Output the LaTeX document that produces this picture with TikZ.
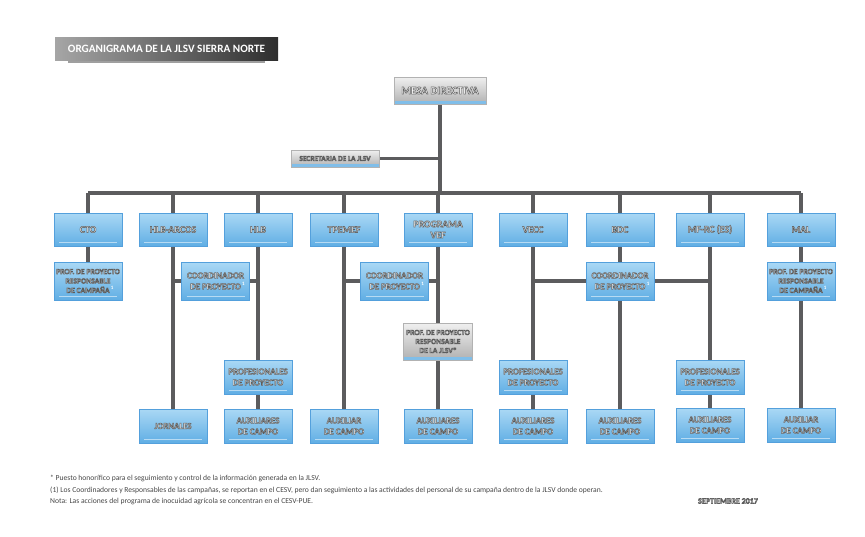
\documentclass[tikz,border=0pt]{standalone}
\usepackage{fontspec}
\setmainfont{Carlito}
\usepackage{tikz}
\usetikzlibrary{calc,positioning,backgrounds}
\definecolor{cAzulA}{RGB}{170,216,245}
\definecolor{cAzulB}{RGB}{96,174,228}
\definecolor{cBorde}{RGB}{84,160,220}
\definecolor{cLinea}{RGB}{92,92,94}
\definecolor{cNota}{RGB}{70,70,70}
% texto blanco con contorno gris (modo de trazo del PDF)
\newcommand{\ct}[1]{\special{pdf:literal direct 2 Tr 0.5 w 0.36 G}#1\special{pdf:literal direct 0 Tr}}
\newcommand{\marca}[1]{\rlap{\,\raisebox{0.9ex}{\fontsize{5}{5}\selectfont #1}}}

\begin{document}
\begin{tikzpicture}[x=1pt,y=-1pt,
  linea/.style={cLinea,line width=3.5pt},
  unidad/.style={draw=cBorde,line width=0.6pt,top color=cAzulA,bottom color=cAzulB,
    minimum width=68pt,minimum height=33pt,inner sep=1pt,align=center,text=white,
    font=\bfseries\fontsize{9.8}{11}\selectfont,
    path picture={\draw[white!55!cAzulB,line width=0.6pt]
      ([xshift=5pt,yshift=4pt]path picture bounding box.south west) --
      ([xshift=-5pt,yshift=4pt]path picture bounding box.south east);}},
  chica/.style={unidad,minimum height=38pt,font=\bfseries\fontsize{7.6}{9.4}\selectfont},
  media/.style={unidad,minimum height=38pt,font=\bfseries\fontsize{8.8}{11}\selectfont},
  campo/.style={unidad,minimum height=34pt,font=\bfseries\fontsize{8.8}{11}\selectfont},
  gris/.style={draw=gray!60,line width=0.5pt,top color=gray!12,bottom color=gray!62,
    align=center,text=white,inner sep=1pt,
    path picture={\fill[cAzulB!80!white]
      ([yshift=3pt]path picture bounding box.south west) rectangle
      (path picture bounding box.south east);}},
  nota/.style={anchor=west,text=cNota,font=\fontsize{7.6}{9}\selectfont,inner sep=0pt}]
\useasboundingbox (0,0) rectangle (865,536);

% titulo
\fill[gray!75] (68,60) rectangle (265,63);
\node[left color=gray!70,right color=black!82,minimum width=223pt,minimum height=23pt,
  inner sep=0pt,text=white,font=\bfseries\fontsize{11.2}{12}\selectfont]
  (titulo) at (166.5,48.5) {ORGANIGRAMA DE LA JLSV SIERRA NORTE};

% direccion
\node[gris,minimum width=92pt,minimum height=27pt,font=\bfseries\fontsize{11}{12}\selectfont]
  (mesa) at (440,90.5) {\ct{MESA DIRECTIVA}};
\node[gris,minimum width=88pt,minimum height=17pt,font=\bfseries\fontsize{7.4}{9}\selectfont]
  (secr) at (335,158.5) {\ct{SECRETARIA DE LA JLSV}};
\coordinate (bus) at (440,193);

% programas
\node[unidad] (cto)    at (88,229.5)  {\ct{CTO}};
\node[unidad] (arcos)  at (173,229.5) {\ct{HLB-ARCOS}};
\node[unidad] (hlb)    at (258,229.5) {\ct{HLB}};
\node[unidad] (tpemef) at (344,229.5) {\ct{TPEMEF}};
\node[unidad] (vef)    at (438,229.5) {\ct{PROGRAMA}\\\ct{VEF}};
\node[unidad] (vecc)   at (533,229.5) {\ct{VECC}};
\node[unidad] (bdc)    at (620,229.5) {\ct{BDC}};
\node[unidad] (mfrc)   at (710,229.5) {\ct{MF-RC (ES)}};
\node[unidad] (mal)    at (801,229.5) {\ct{MAL}};

% coordinadores y responsables
\node[chica] (ctoProf) at (88,281)    {\ct{PROF. DE PROYECTO}\\\ct{RESPONSABLE}\\\ct{DE CAMPAÑA}\marca{1}};
\node[media] (coordA)  at (215.5,281) {\ct{COORDINADOR}\\\ct{DE PROYECTO}\marca{1}};
\node[media] (coordB)  at (394.5,281) {\ct{COORDINADOR}\\\ct{DE PROYECTO}\marca{1}};
\node[media] (coordC)  at (620,281)   {\ct{COORDINADOR}\\\ct{DE PROYECTO}\marca{1}};
\node[chica] (malProf) at (801,281)   {\ct{PROF. DE PROYECTO}\\\ct{RESPONSABLE}\\\ct{DE CAMPAÑA}\marca{1}};

\node[gris,minimum width=69pt,minimum height=37pt,font=\bfseries\fontsize{7.6}{9}\selectfont]
  (jlsv) at (438,341.5) {\ct{PROF. DE PROYECTO}\\\ct{RESPONSABLE}\\\ct{DE LA JLSV*}};

% profesionales
\node[campo] (profHlb)  at (258,377) {\ct{PROFESIONALES}\\\ct{DE PROYECTO}};
\node[campo] (profVecc) at (533,377) {\ct{PROFESIONALES}\\\ct{DE PROYECTO}};
\node[campo] (profMf)   at (710,377) {\ct{PROFESIONALES}\\\ct{DE PROYECTO}};

% personal de campo
\node[campo] (jorn)    at (173,426) {\ct{JORNALES}};
\node[campo] (auxHlb)  at (258,426) {\ct{AUXILIARES}\\\ct{DE CAMPO}};
\node[campo] (auxTp)   at (344,426) {\ct{AUXILIAR}\\\ct{DE CAMPO}};
\node[campo] (auxVef)  at (438,426) {\ct{AUXILIARES}\\\ct{DE CAMPO}};
\node[campo] (auxVecc) at (533,426) {\ct{AUXILIARES}\\\ct{DE CAMPO}};
\node[campo] (auxBdc)  at (620,426) {\ct{AUXILIARES}\\\ct{DE CAMPO}};
\node[campo] (auxMf)   at (710,425) {\ct{AUXILIARES}\\\ct{DE CAMPO}};
\node[campo] (auxMal)  at (801,425) {\ct{AUXILIAR}\\\ct{DE CAMPO}};

% lineas
\begin{scope}[on background layer]
  \draw[linea] (mesa.south) -- (bus);
  \draw[linea] (secr.east) -- (secr.east -| mesa);
  \draw[linea] (bus -| cto) -- (bus -| mal);
  \foreach \n in {cto,arcos,hlb,tpemef,vef,vecc,bdc,mfrc,mal}
    \draw[linea] (bus -| \n) -- (\n.north);
  \draw[linea] (cto) -- (ctoProf);
  \draw[linea] (arcos) -- (jorn);
  \draw[linea] (hlb) -- (profHlb) -- (auxHlb);
  \draw[linea] (coordA -| arcos) -- (coordA -| hlb);
  \draw[linea] (tpemef) -- (auxTp);
  \draw[linea] (vef) -- (jlsv) -- (auxVef);
  \draw[linea] (coordB -| tpemef) -- (coordB -| vef);
  \draw[linea] (vecc) -- (profVecc) -- (auxVecc);
  \draw[linea] (bdc) -- (coordC) -- (auxBdc);
  \draw[linea] (coordC -| vecc) -- (coordC -| mfrc);
  \draw[linea] (mfrc) -- (profMf) -- (auxMf);
  \draw[linea] (mal) -- (malProf) -- (auxMal);
\end{scope}

% notas
\node[nota] (nota1) at (50,478) {* Puesto honorífico para el seguimiento y control de la información generada en la JLSV.};
\node[nota] (nota2) at (50,490) {(1) Los Coordinadores y Responsables de las campañas, se reportan en el CESV, pero dan seguimiento a las actividades del personal de su campaña dentro de la JLSV donde operan.};
\node[nota] (nota3) at (50,502) {Nota: Las acciones del programa de inocuidad agrícola se concentran en el CESV-PUE.};
\node[text=white,font=\bfseries\fontsize{8}{9}\selectfont,inner sep=0pt] (fecha) at (728,501) {\ct{SEPTIEMBRE 2017}};
\end{tikzpicture}
\end{document}
